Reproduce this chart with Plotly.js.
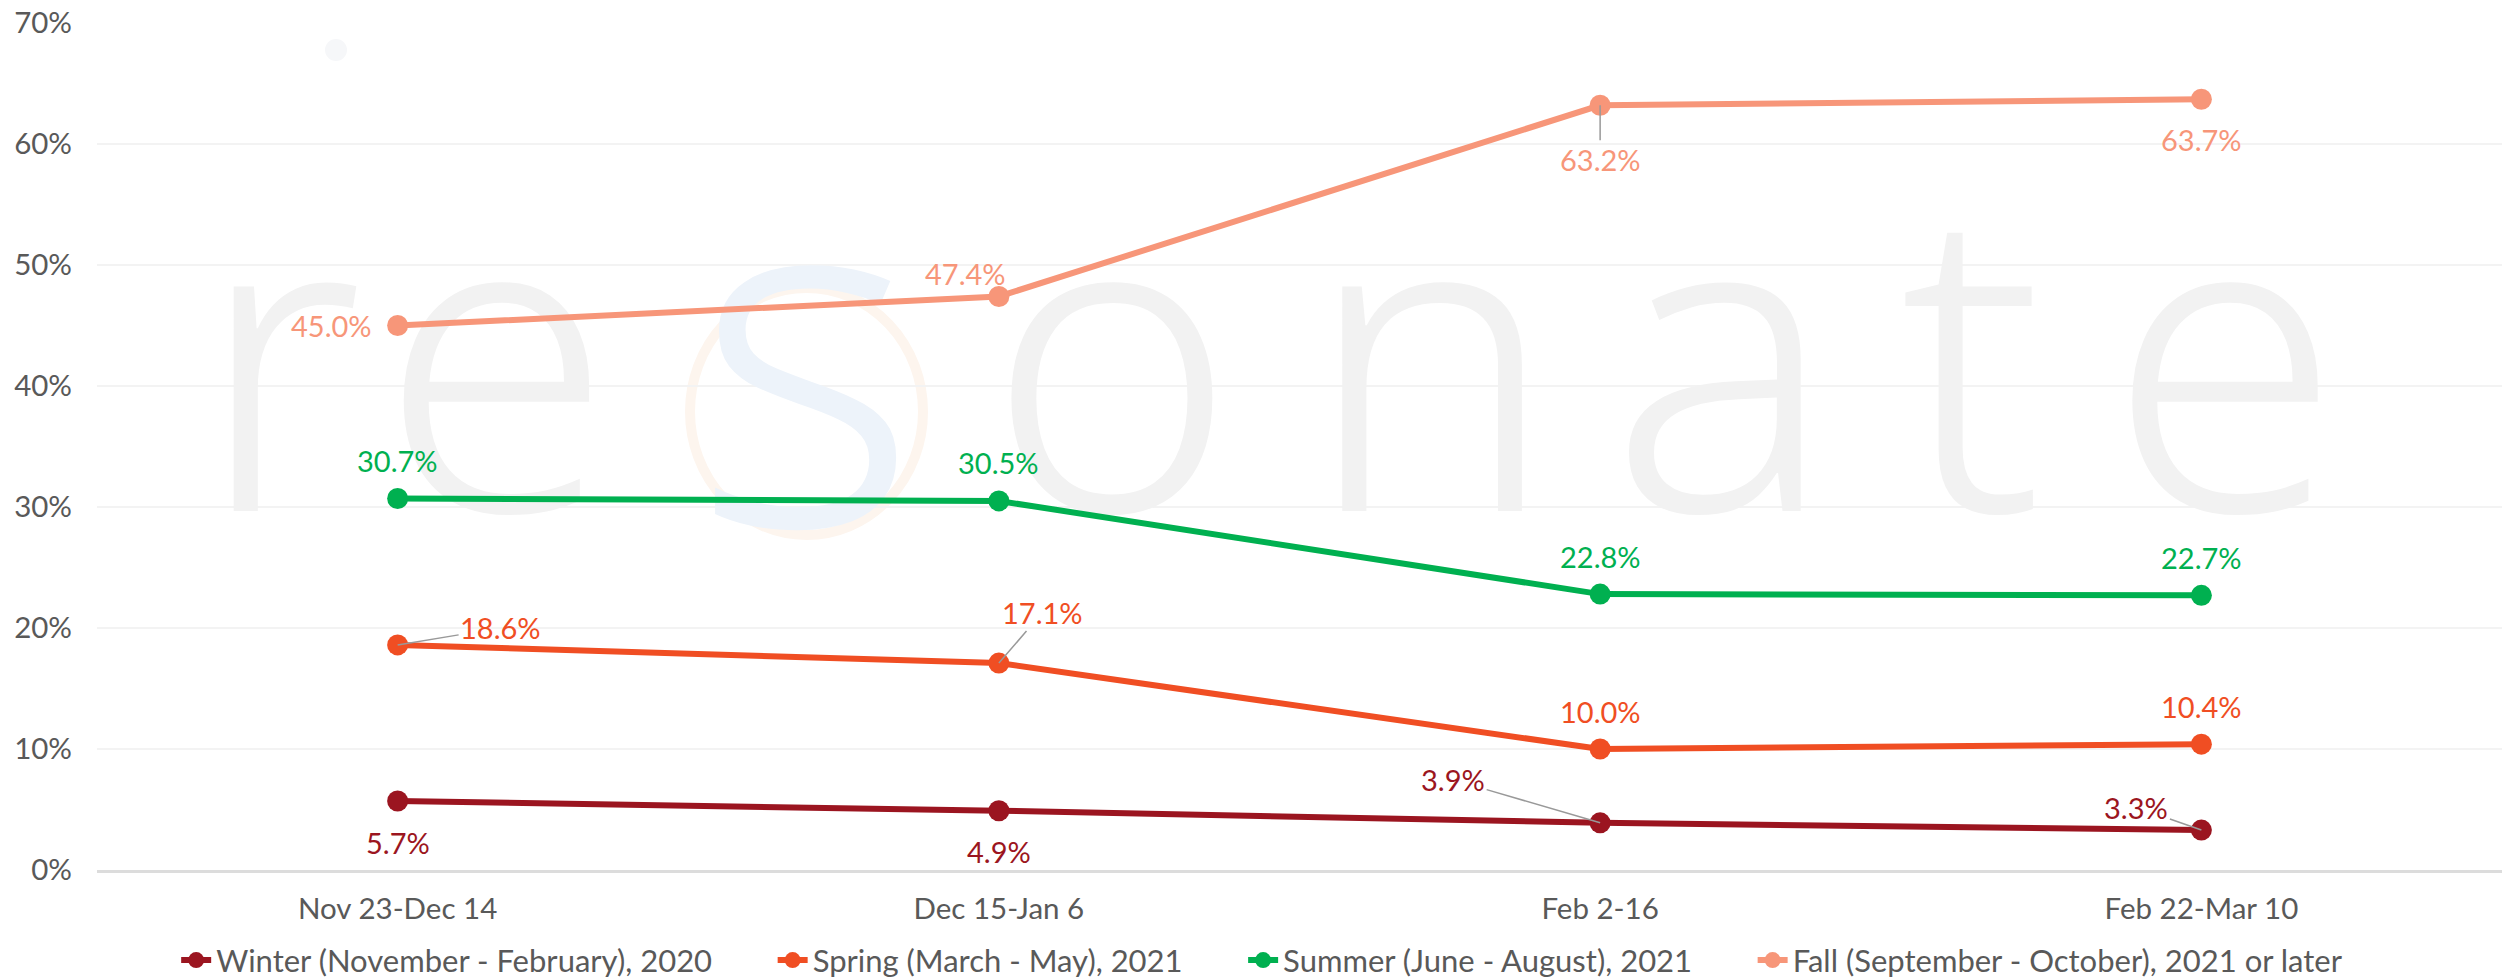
<!DOCTYPE html>
<html><head><meta charset="utf-8">
<script src="https://cdn.plot.ly/plotly-3.0.1.min.js"></script>
<style>html,body{margin:0;padding:0;background:#fff}#chart{width:2513px;height:979px}</style>
</head><body><div id="chart"></div>
<script>
// ---- data ----
const categories = ["Nov 23-Dec 14", "Dec 15-Jan 6", "Feb 2-16", "Feb 22-Mar 10"];
const seriesNames = [
  "Winter (November - February), 2020",
  "Spring (March - May), 2021",
  "Summer (June - August), 2021",
  "Fall (September - October), 2021 or later"
];
const winter = [5.7, 4.9, 3.9, 3.3];
const spring = [18.6, 17.1, 10.0, 10.4];
const summer = [30.7, 30.5, 22.8, 22.7];
const fall = [45.0, 47.4, 63.2, 63.7];
const yTickValues = [0, 10, 20, 30, 40, 50, 60, 70];
const yTickLabels = ["0%", "10%", "20%", "30%", "40%", "50%", "60%", "70%"];

// ---- styles ----
const colors = ["#9B1520", "#F04E23", "#00B050", "#F79679"];
const FONT = "Lato, 'Open Sans', sans-serif";
const WMFONT = "'Noto Sans', Roboto, sans-serif";
// label placement (screen px offsets from point; dy positive = down)
const labelPlacement = [
  [{dx:0,dy:41},{dx:0,dy:41},{dx:-147,dy:-43,arrow:true},{dx:-65,dy:-23,arrow:true}],
  [{dx:103,dy:-17,arrow:true},{dx:44,dy:-51,arrow:true},{dx:0,dy:-38},{dx:0,dy:-38}],
  [{dx:0,dy:-38},{dx:0,dy:-38},{dx:0,dy:-38},{dx:0,dy:-38}],
  [{dx:-24,dy:0,right:true},{dx:-33,dy:-23},{dx:0,dy:54,arrow:true},{dx:0,dy:40}]
];
const legendPad = "\u00a0\u00a0\u00a0\u00a0\u00a0\u00a0\u00a0";

const xIdx = categories.map((c, i) => i);
const allSeries = [winter, spring, summer, fall];

// watermark "resonate" (decoration only)
const wmLetters = ["r","e","s","o","n","a","t","e"];
const wmX = [-0.196, 0.164, 0.679, 1.188, 1.719, 2.203, 2.618, 3.039];
const wmColors = ["#f2f2f2","#f2f2f2","#edf3fa","#f2f2f2","#f2f2f2","#f2f2f2","#f2f2f2","#f2f2f2"];
const wmSizes = [422,422,480,422,422,422,422,422];

const traces = [];
traces.push({
  x: wmX, y: wmX.map(() => 38.4), mode: "text", text: wmLetters,
  textposition: "middle center",
  textfont: {family: WMFONT, size: wmSizes, color: wmColors, weight: 340},
  hoverinfo: "skip", showlegend: false, cliponaxis: false
});
allSeries.forEach((vals, s) => {
  traces.push({
    x: xIdx, y: vals, name: seriesNames[s] + legendPad, type: "scatter", mode: "lines+markers",
    line: {color: colors[s], width: 6},
    marker: {color: colors[s], size: 21},
    hoverinfo: "skip"
  });
});

const annotations = [];
allSeries.forEach((vals, s) => {
  vals.forEach((v, i) => {
    const p = labelPlacement[s][i];
    const a = {
      x: xIdx[i], y: v, xref: "x", yref: "y",
      text: v.toFixed(1) + "%",
      font: {family: FONT, size: 29, color: colors[s]}
    };
    if (p.arrow) {
      Object.assign(a, {showarrow: true, ax: p.dx, ay: p.dy, axref: "pixel", ayref: "pixel",
        arrowhead: 0, arrowwidth: 1.5, arrowcolor: "#999999", standoff: 0, startstandoff: 0});
    } else {
      Object.assign(a, {showarrow: false, xshift: p.dx, yshift: -p.dy,
        xanchor: p.right ? "right" : "center", yanchor: "middle"});
    }
    annotations.push(a);
  });
});

const layout = {
  width: 2513, height: 979,
  margin: {l: 97, r: 11, t: 23, b: 109},
  paper_bgcolor: "#ffffff", plot_bgcolor: "#ffffff",
  font: {family: FONT, color: "#595959", size: 29},
  showlegend: true,
  legend: {
    orientation: "h", xref: "container", yref: "container",
    x: 0.513, y: 0.019, xanchor: "center", yanchor: "middle",
    font: {family: FONT, size: 31, color: "#595959"},
    itemwidth: 30, tracegroupgap: 0
  },
  xaxis: {
    range: [-0.5, 3.5], tickmode: "array", tickvals: xIdx, ticktext: categories,
    showgrid: false, zeroline: false, showline: true, linecolor: "#dcdcdc", linewidth: 3,
    ticks: "", ticklabelstandoff: 11, tickfont: {family: FONT, size: 29.5, color: "#595959"},
    fixedrange: true
  },
  yaxis: {
    range: [0, 70], tickmode: "array", tickvals: yTickValues, ticktext: yTickLabels,
    showgrid: true, gridcolor: "#f3f3f3", gridwidth: 2, zeroline: false, showline: false,
    ticks: "", ticklabelstandoff: 24, tickfont: {family: FONT, size: 29.5, color: "#595959"},
    fixedrange: true
  },
  shapes: [
    {type: "circle", xref: "paper", yref: "paper", layer: "below",
     x0: (325-97)/2405, x1: (347-97)/2405, y0: (870-61)/847, y1: (870-39)/847,
     fillcolor: "#f6f7f9", line: {width: 0}},
    {type: "circle", xref: "paper", yref: "paper", layer: "below",
     x0: (690-97)/2405, x1: (923-97)/2405, y0: (870-535)/847, y1: (870-288)/847,
     fillcolor: "rgba(0,0,0,0)", line: {width: 10, color: "#fdf5ee"}}
  ],
  annotations: annotations
};

Plotly.newPlot("chart", traces, layout, {displayModeBar: false, staticPlot: true});
</script></body></html>
